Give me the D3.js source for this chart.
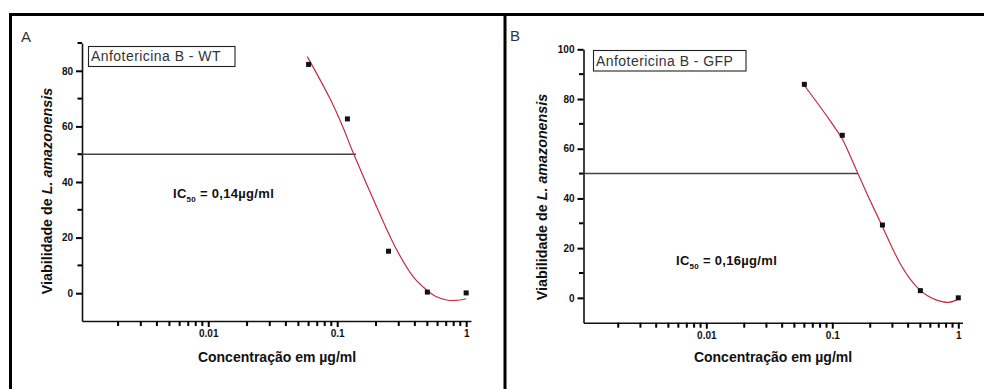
<!DOCTYPE html>
<html>
<head>
<meta charset="utf-8">
<script src="https://cdn.jsdelivr.net/npm/d3@7/dist/d3.min.js"></script>
<style>
  html, body { margin: 0; padding: 0; background: #fff; }
  svg { display: block; }
  text { font-family: "Liberation Sans", Arial, sans-serif; }
</style>
</head>
<body>
<svg id="chart" width="984" height="389"></svg>
<script>
// Concentrations tested (µg/ml) and measured viability (%)
const concentrations = [0.06, 0.12, 0.25, 0.5, 1];
const viabilityWT  = [82.3, 62.7, 15.1, 0.4, 0.1];
const viabilityGFP = [85.9, 65.4, 29.3, 2.9, 0.0];

// Fitted dose-response curves (conc, viability)
const fitConcWT = [0.0586, 0.0879, 0.1109, 0.1333, 0.2024, 0.2892, 0.3891, 0.4943, 0.5834, 0.7065, 0.834, 1.0];
const fitWT     = [85.1, 70.0, 59.7, 50.4, 31.0, 15.6, 5.9, 1.15, -1.2, -2.45, -2.6, -2.0];
const fitConcGFP = [0.0589, 0.0729, 0.0924, 0.107, 0.1194, 0.1382, 0.1608, 0.1991, 0.2466, 0.2923,
                    0.3446, 0.4137, 0.4966, 0.5747, 0.674, 0.8327, 0.9712];
const fitGFP     = [86.0, 79.7, 72.5, 67.8, 64.1, 57.3, 49.7, 39.3, 29.3, 21.2,
                    13.9, 7.6, 3.1, 0.7, -0.9, -1.8, -0.9];

// IC50 values (µg/ml)
const ic50WT = 0.14;
const ic50GFP = 0.16;

// Axis ticks
const xMajorTicks = [0.01, 0.1, 1];
const xTickLabels = ["0.01", "0.1", "1"];
const yMajorTicksWT = [0, 20, 40, 60, 80];
const yMinorTicksWT = [10, 30, 50, 70, 90];
const yMajorTicksGFP = [0, 20, 40, 60, 80, 100];
const yMinorTicksGFP = [10, 30, 50, 70, 90];

const panelLabels = ["A", "B"];
const legendLabels = ["Anfotericina B - WT", "Anfotericina B - GFP"];
const ic50Labels = ["0,14µg/ml", "0,16µg/ml"];

const panels = [
  {
    letter: panelLabels[0], legend: legendLabels[0], icText: ic50Labels[0],
    conc: concentrations, vals: viabilityWT, fitX: fitConcWT, fitY: fitWT, ic50: ic50WT,
    yMajor: yMajorTicksWT, yMinor: yMinorTicksWT,
    xDomain: [0.00105, 1.09], xRange: [82, 471],
    yDomain: [-10, 90], yRange: [321, 43],
    letterPos: [21, 42],
    legendBox: [88.5, 46.5, 146.5, 20], legendText: [91, 61],
    icPos: [173, 198],
    xLabelPos: [277, 362],
    yLabelPos: [52, 191]
  },
  {
    letter: panelLabels[1], legend: legendLabels[1], icText: ic50Labels[1],
    conc: concentrations, vals: viabilityGFP, fitX: fitConcGFP, fitY: fitGFP, ic50: ic50GFP,
    yMajor: yMajorTicksGFP, yMinor: yMinorTicksGFP,
    xDomain: [0.00106, 1.08], xRange: [583.5, 962.5],
    yDomain: [-10, 100], yRange: [322.7, 49.3],
    letterPos: [510, 41],
    legendBox: [593.5, 50.5, 152.5, 20.5], legendText: [596, 65.5],
    icPos: [676, 265],
    xLabelPos: [773, 362],
    yLabelPos: [547, 197]
  }
];

const svg = d3.select("#chart");

// Figure frame
const frame = svg.append("g").attr("stroke", "#000").attr("stroke-width", 3);
frame.append("line").attr("x1", 9).attr("x2", 984).attr("y1", 14.5).attr("y2", 14.5);
frame.append("line").attr("x1", 10.5).attr("x2", 10.5).attr("y1", 13).attr("y2", 389);
frame.append("line").attr("x1", 505).attr("x2", 505).attr("y1", 13).attr("y2", 389);

// Minor ticks for a log axis: 2..9 × each decade inside the domain
function logMinorTicks(domain) {
  const out = [];
  for (let e = -4; e <= 1; e++) {
    for (let m = 2; m <= 9; m++) {
      const v = m * Math.pow(10, e);
      if (v >= domain[0] && v <= domain[1]) out.push(v);
    }
  }
  return out;
}

panels.forEach(p => {
  const g = svg.append("g");
  const x = d3.scaleLog().domain(p.xDomain).range(p.xRange);
  const y = d3.scaleLinear().domain(p.yDomain).range(p.yRange);
  const x0 = p.xRange[0], yb = p.yRange[0];

  // Panel letter
  g.append("text").attr("x", p.letterPos[0]).attr("y", p.letterPos[1])
    .attr("font-size", 15).attr("fill", "#333").text(p.letter);

  // X axis with major ticks and labels
  g.append("g").attr("class", "axis").attr("transform", `translate(0,${yb})`)
    .call(d3.axisBottom(x).tickValues(xMajorTicks)
      .tickFormat((d, i) => xTickLabels[i]).tickSize(6).tickSizeOuter(0).tickPadding(3));

  // Y axis with major ticks and labels
  g.append("g").attr("class", "axis").attr("transform", `translate(${x0},0)`)
    .call(d3.axisLeft(y).tickValues(p.yMajor).tickSize(6).tickSizeOuter(0).tickPadding(3));

  g.selectAll(".domain").attr("stroke", "#111").attr("stroke-width", 1.6);
  g.selectAll(".tick line").attr("stroke", "#000").attr("stroke-width", 2);
  g.selectAll(".tick text").attr("font-size", 10).attr("font-weight", "bold")
    .attr("fill", "#111").attr("font-family", "'Liberation Sans', Arial, sans-serif");

  // Minor ticks
  g.append("g").selectAll("line").data(logMinorTicks(p.xDomain)).enter().append("line")
    .attr("x1", d => x(d)).attr("x2", d => x(d))
    .attr("y1", yb).attr("y2", yb + 5)
    .attr("stroke", "#000").attr("stroke-width", 2);
  g.append("g").selectAll("line").data(p.yMinor).enter().append("line")
    .attr("x1", x0 - 4.5).attr("x2", x0)
    .attr("y1", d => y(d)).attr("y2", d => y(d))
    .attr("stroke", "#000").attr("stroke-width", 2);

  // Axis titles
  g.append("text").attr("x", p.xLabelPos[0]).attr("y", p.xLabelPos[1])
    .attr("text-anchor", "middle").attr("font-size", 14).attr("font-weight", "bold")
    .attr("fill", "#111").text("Concentração em µg/ml");

  const yl = g.append("text")
    .attr("transform", `translate(${p.yLabelPos[0]},${p.yLabelPos[1]}) rotate(-90)`)
    .attr("text-anchor", "middle").attr("font-size", 14.3).attr("font-weight", "bold").attr("fill", "#111");
  yl.append("tspan").text("Viabilidade de ");
  yl.append("tspan").attr("font-style", "italic").text("L. amazonensis");

  // Legend box
  g.append("rect").attr("x", p.legendBox[0]).attr("y", p.legendBox[1])
    .attr("width", p.legendBox[2]).attr("height", p.legendBox[3])
    .attr("fill", "#fff").attr("stroke", "#222").attr("stroke-width", 1.1);
  g.append("text").attr("x", p.legendText[0]).attr("y", p.legendText[1])
    .attr("font-size", 14).attr("letter-spacing", 0.45).attr("fill", "#333").text(p.legend);

  // IC50 reference line at 50 % viability
  g.append("line").attr("x1", x0).attr("x2", x(p.ic50))
    .attr("y1", y(50)).attr("y2", y(50))
    .attr("stroke", "#444").attr("stroke-width", 1.5);

  // IC50 annotation
  const ic = g.append("text").attr("x", p.icPos[0]).attr("y", p.icPos[1])
    .attr("font-size", 13).attr("font-weight", "bold").attr("fill", "#111").attr("letter-spacing", 0.3);
  ic.append("tspan").text("IC");
  ic.append("tspan").attr("font-size", 8).attr("dy", 4).text("50");
  ic.append("tspan").attr("dy", -4).text(" = " + p.icText);

  // Fitted curve
  const fit = p.fitX.map((c, i) => [c, p.fitY[i]]);
  g.append("path").datum(fit)
    .attr("fill", "none").attr("stroke", "#c42c40").attr("stroke-width", 1.2)
    .attr("d", d3.line().x(d => x(d[0])).y(d => y(d[1])).curve(d3.curveCatmullRom.alpha(0.5)));

  // Measured points
  const s = 5;
  g.selectAll("rect.pt").data(p.conc.map((c, i) => [c, p.vals[i]])).enter()
    .append("rect").attr("class", "pt")
    .attr("x", d => x(d[0]) - s / 2).attr("y", d => y(d[1]) - s / 2)
    .attr("width", s).attr("height", s).attr("fill", "#111");
});
</script>
</body>
</html>
